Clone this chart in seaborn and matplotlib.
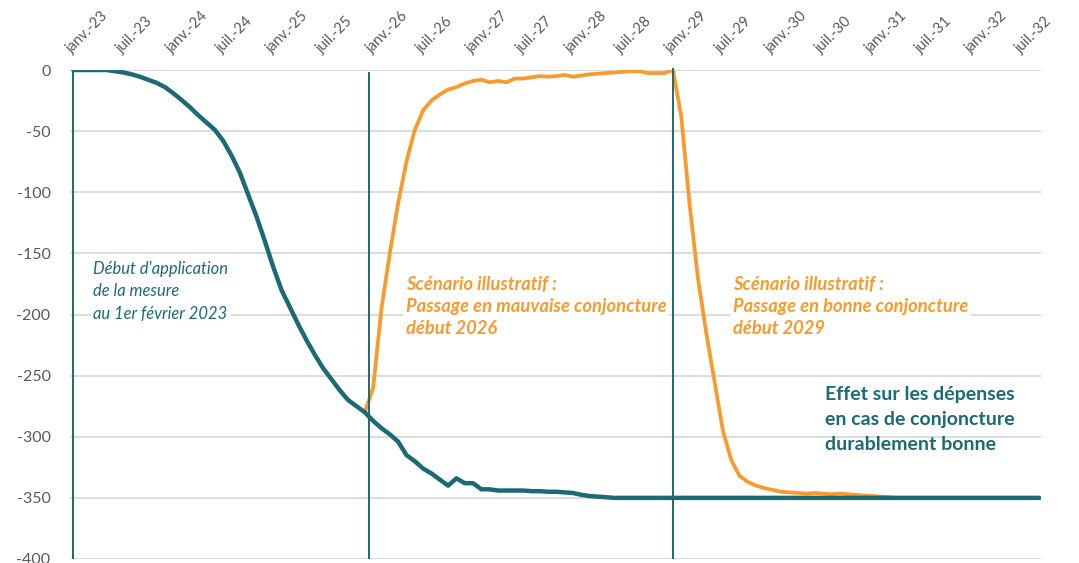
import numpy as np
import pandas as pd
import matplotlib
matplotlib.use("Agg")
import matplotlib.pyplot as plt
import seaborn as sns

# monthly index, janv.-23 = 0 ... sept.-32 = 116
tick_labels = ["janv.-23", "juil.-23", "janv.-24", "juil.-24", "janv.-25", "juil.-25",
               "janv.-26", "juil.-26", "janv.-27", "juil.-27", "janv.-28", "juil.-28",
               "janv.-29", "juil.-29", "janv.-30", "juil.-30", "janv.-31", "juil.-31",
               "janv.-32", "juil.-32"]

# effet en cas de conjoncture durablement bonne (teal)
effet_bonne = [0, 0, 0, 0, 0, -1, -2, -3.5, -5.5, -8,
               -10.5, -14, -19, -24.5, -30.5, -37, -43, -49, -58, -70,
               -84, -102, -120, -140, -161, -180, -194, -208, -221, -233,
               -244, -253, -262, -270, -275, -280, -287, -293, -298, -304,
               -315, -320, -326, -330, -335, -340, -334, -338, -338, -343,
               -343, -344, -344, -344, -344, -344.5, -344.5, -345, -345, -345.5,
               -346, -347.5, -348.5, -349, -349.5] + [-350] * 52

# scenario illustratif (orange), starts at month 35
scenario_start = 35
scenario = [-280, -260, -195, -150, -109, -75, -49, -33, -25, -20,
            -16, -14, -11, -9, -8, -10, -9, -10, -7, -7,
            -6, -5, -5.5, -5, -4, -5.5, -4.5, -3.5, -3, -2.5,
            -2, -1.5, -1, -1, -2.5, -2.5, -2.5, 0, -38, -110,
            -170, -215, -255, -295, -319, -332, -337, -340, -342, -343.5,
            -345, -345.5, -346, -346.5, -346, -346.5, -347, -346.5, -347, -347.5,
            -348, -348.5, -349, -349.5] + [-350] * 18

# event markers (month index): start of the measure, bad / good scenario
events = [0, 35.5, 72]
event_tops = [0, -2, 2]

teal = "#1B6A74"
orange = "#F99A2C"
grey = "#595959"

df = pd.concat([
    pd.DataFrame({"mois": np.arange(len(effet_bonne)), "valeur": effet_bonne, "serie": "bonne"}),
    pd.DataFrame({"mois": np.arange(len(scenario)) + scenario_start, "valeur": scenario, "serie": "scenario"}),
])

sns.set_style("white")
plt.rcParams["font.family"] = ["Lato", "DejaVu Sans"]
plt.rcParams["axes.unicode_minus"] = False

fig = plt.figure(figsize=(10.79, 5.63), dpi=100)
ax = fig.add_axes([70 / 1079, 4 / 563, 971 / 1079, 489 / 563])

sns.lineplot(data=df[df.serie == "scenario"], x="mois", y="valeur", color=orange,
             lw=2.7, ax=ax, zorder=3)
sns.lineplot(data=df[df.serie == "bonne"], x="mois", y="valeur", color=teal,
             lw=3.2, ax=ax, zorder=4)
ax.vlines(events, -400, event_tops, color=teal, lw=1.4, zorder=5, clip_on=False)

ax.set_xlim(-0.4, 116.2)
ax.set_ylim(-400, 0)
ax.set_yticks(np.arange(-400, 1, 50))
ax.set_xticks(np.arange(0, 115, 6))
ax.set_xticklabels(tick_labels, rotation=45, ha="left", va="bottom",
                   rotation_mode="anchor")
ax.xaxis.tick_top()
ax.tick_params(axis="x", length=0, pad=10, labelsize=10.5, labelcolor=grey)
ax.tick_params(axis="y", length=0, pad=14, labelsize=11.5, labelcolor=grey)
ax.set_xlabel("")
ax.set_ylabel("")
for s in ax.spines.values():
    s.set_visible(False)
ax.yaxis.grid(True, color="#D9D9D9", lw=1.3)
ax.set_axisbelow(True)

box = dict(facecolor="white", edgecolor="none", pad=2)
ax.text(2.4, -156.5, "Début d'application\nde la mesure\nau 1er février 2023",
        color=teal, style="italic", fontsize=11.9, va="top", ha="left",
        linespacing=1.47, bbox=box, zorder=2)
ax.text(39.9, -168.5, "Scénario illustratif :\nPassage en mauvaise conjoncture\ndébut 2026",
        color=orange, style="italic", weight="bold", fontsize=13.2, va="top", ha="left",
        linespacing=1.34, bbox=box, zorder=2)
ax.text(79.2, -168.5, "Scénario illustratif :\nPassage en bonne conjoncture\ndébut 2029",
        color=orange, style="italic", weight="bold", fontsize=13.2, va="top", ha="left",
        linespacing=1.34, bbox=box, zorder=2)
ax.text(90.3, -258.5, "Effet sur les dépenses\nen cas de conjoncture\ndurablement bonne",
        color=teal, weight="bold", fontsize=14, va="top", ha="left",
        linespacing=1.58, zorder=2)

fig.savefig("out.png", dpi=100)
